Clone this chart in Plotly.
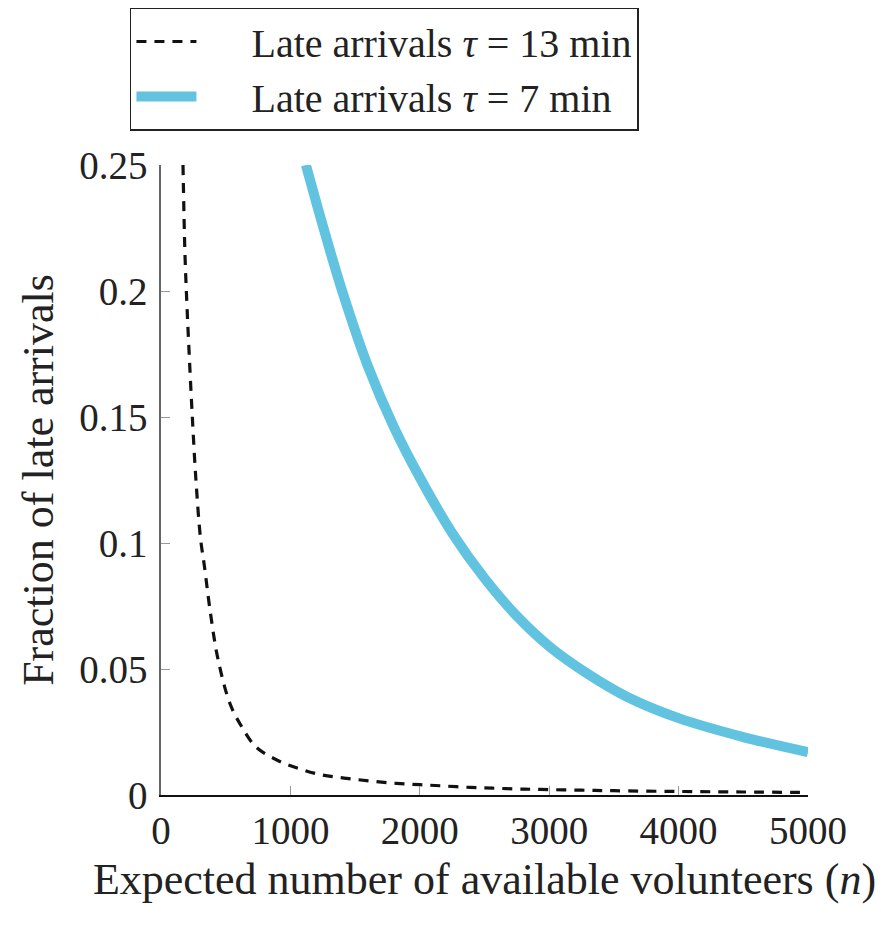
import plotly.graph_objects as go

# Expected number of available volunteers (n) and fraction of late arrivals
n_tau13 = [170, 185, 200, 215, 240, 270, 305, 335, 380, 440, 535, 625, 735, 895,
           1075, 1250, 1435, 1625, 1820, 2000, 2180, 2390, 2565, 2750, 2930,
           3250, 3500, 4000, 4500, 5000]
late_tau13 = [0.25, 0.215, 0.195, 0.178, 0.152, 0.125, 0.102, 0.091, 0.073, 0.054,
              0.036, 0.027, 0.019, 0.0139, 0.0103, 0.0079, 0.0066, 0.0055, 0.0046,
              0.0041, 0.0036, 0.0030, 0.0027, 0.0024, 0.0022, 0.0019, 0.0017,
              0.0014, 0.0012, 0.0010]

n_tau7 = [1120, 1250, 1400, 1600, 1800, 2000, 2250, 2500, 2750, 3000, 3300,
          3600, 4000, 4500, 5000]
late_tau7 = [0.25, 0.226, 0.200, 0.170, 0.146, 0.126, 0.104, 0.086, 0.071, 0.059,
             0.048, 0.039, 0.0305, 0.023, 0.017]

x_ticks = [0, 1000, 2000, 3000, 4000, 5000]
x_tick_labels = ["0", "1000", "2000", "3000", "4000", "5000"]
y_ticks = [0, 0.05, 0.1, 0.15, 0.2, 0.25]
y_tick_labels = ["0", "0.05", "0.1", "0.15", "0.2", "0.25"]

FONT = "Liberation Serif, Tinos, Times New Roman, DejaVu Serif, serif"
TICK_SIZE = 39
TITLE_SIZE = 44
LEGEND_SIZE = 40
TEXT = "#222222"
GAP = "\u00a0" * 5

fig = go.Figure()
fig.add_trace(go.Scatter(
    x=n_tau13, y=late_tau13, mode="lines", line_shape="spline",
    name=GAP + "Late arrivals <i>τ</i> = 13 min",
    line=dict(color="#111111", width=3.2, dash="10px,8px"),
))
fig.add_trace(go.Scatter(
    x=n_tau7, y=late_tau7, mode="lines", line_shape="spline",
    name=GAP + "Late arrivals <i>τ</i> = 7 min",
    line=dict(color="#62C3E0", width=10),
))

fig.update_layout(
    width=881, height=927,
    margin=dict(l=161, r=73, t=165, b=132, autoexpand=False),
    paper_bgcolor="white", plot_bgcolor="white",
    font=dict(family=FONT, size=TICK_SIZE, color=TEXT),
    showlegend=True,
    legend=dict(
        x=-0.048, y=1.250, xanchor="left", yanchor="top",
        bgcolor="white", bordercolor="#222222", borderwidth=1.5,
        font=dict(family=FONT, size=LEGEND_SIZE, color=TEXT),
        itemwidth=60, tracegroupgap=0,
    ),
)

fig.update_xaxes(
    range=[0, 5000], tickvals=x_ticks, ticktext=x_tick_labels,
    ticks="inside", ticklen=9, tickwidth=1.2, tickcolor="#999999",
    showline=True, linecolor="#111111", linewidth=2,
    showgrid=False, zeroline=False,
    title=dict(text="Expected number of available volunteers (<i>n</i>)",
               font=dict(family=FONT, size=TITLE_SIZE, color=TEXT), standoff=12),
    tickfont=dict(family=FONT, size=TICK_SIZE, color=TEXT),
)
fig.update_yaxes(
    range=[0, 0.25], tickvals=y_ticks, ticktext=y_tick_labels,
    ticks="inside", ticklen=9, tickwidth=1.2, tickcolor="#999999",
    showline=True, linecolor="#666666", linewidth=1.5,
    showgrid=False, zeroline=False, ticklabelstandoff=4,
    title=dict(text="Fraction of late arrivals",
               font=dict(family=FONT, size=TITLE_SIZE, color=TEXT), standoff=12),
    tickfont=dict(family=FONT, size=TICK_SIZE, color=TEXT),
)

fig.write_html("out.html")
